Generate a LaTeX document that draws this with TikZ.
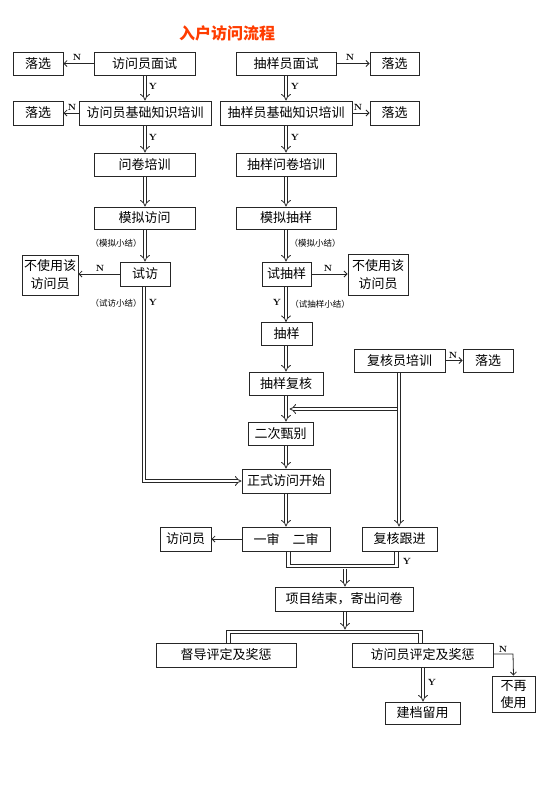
\documentclass[tikz,border=0pt]{standalone}
\usepackage{fontspec}
\newfontfamily\cjk{Noto Sans CJK SC}
\usetikzlibrary{arrows.meta}
\definecolor{titlered}{RGB}{255,60,0}
\begin{document}
\begin{tikzpicture}[x=1pt,y=-1pt,
 box/.style={draw=black!85, line width=1pt, inner sep=0pt, align=center, font=\cjk\fontsize{13}{17}\selectfont, fill=white},
 lbl/.style={font=\fontsize{9}{9}\selectfont\bfseries, inner sep=0pt},
 note/.style={font=\cjk\fontsize{8.5}{9}\selectfont, inner sep=0pt},
 dblline/.style={draw=black!85, line width=0.8pt, double=white, double distance=2.6pt},
 dbl/.style={dblline, -{Implies[length=6pt,width=13pt]}},
 sgl/.style={draw=black!85, line width=0.8pt, -{Straight Barb[length=3pt,width=6pt]}}
]
\useasboundingbox (0,0) rectangle (550,787);
\node[font=\cjk\bfseries\fontsize{16}{16}\selectfont, text=titlered, inner sep=0pt] (title) at (227,33) {入户访问流程};

% left column
\node[box, minimum width=50pt, minimum height=23pt] (lA1) at (38,63.5) {落选};
\node[box, minimum width=101pt, minimum height=23pt] (A1) at (144.5,63.5) {访问员面试};
\node[box, minimum width=50pt, minimum height=24pt] (lA2) at (38,113) {落选};
\node[box, minimum width=132pt, minimum height=24pt] (A2) at (145,113) {访问员基础知识培训};
\node[box, minimum width=101pt, minimum height=23pt] (A3) at (144.5,164.5) {问卷培训};
\node[box, minimum width=101pt, minimum height=22pt] (A4) at (144.5,218) {模拟访问};
\node[box, minimum width=50pt, minimum height=24pt] (A5) at (145,274) {试访};
\node[box, minimum width=56pt, minimum height=40pt, font=\cjk\fontsize{13}{18}\selectfont] (nA5) at (50,275) {不使用该\\访问员};

% right column
\node[box, minimum width=100pt, minimum height=23pt] (B1) at (286,63.5) {抽样员面试};
\node[box, minimum width=49pt, minimum height=23pt] (rB1) at (394.5,63.5) {落选};
\node[box, minimum width=132pt, minimum height=24pt] (B2) at (286,113) {抽样员基础知识培训};
\node[box, minimum width=49pt, minimum height=24pt] (rB2) at (394.5,113) {落选};
\node[box, minimum width=100pt, minimum height=23pt] (B3) at (286,164.5) {抽样问卷培训};
\node[box, minimum width=100pt, minimum height=22pt] (B4) at (286,218) {模拟抽样};
\node[box, minimum width=49pt, minimum height=24pt] (B5) at (286.5,274) {试抽样};
\node[box, minimum width=60pt, minimum height=41pt, font=\cjk\fontsize{13}{18}\selectfont] (nB5) at (378,274.5) {不使用该\\访问员};
\node[box, minimum width=51pt, minimum height=23pt] (B6) at (286.5,334) {抽样};
\node[box, minimum width=74pt, minimum height=23pt] (B7) at (286,383.5) {抽样复核};
\node[box, minimum width=91pt, minimum height=23pt] (C1) at (399.5,360.5) {复核员培训};
\node[box, minimum width=50pt, minimum height=23pt] (rC1) at (488,360.5) {落选};
\node[box, minimum width=65pt, minimum height=23pt] (B8) at (280.5,433.5) {二次甄别};
\node[box, minimum width=88pt, minimum height=24pt] (B9) at (286,481) {正式访问开始};
\node[box, minimum width=88pt, minimum height=24pt] (B10) at (286,539) {一审　二审};
\node[box, minimum width=51pt, minimum height=24pt] (lB10) at (185.5,539) {访问员};
\node[box, minimum width=75pt, minimum height=24pt] (C2) at (399.5,539) {复核跟进};
\node[box, minimum width=138pt, minimum height=24pt] (D1) at (344,599) {项目结束，寄出问卷};
\node[box, minimum width=140pt, minimum height=24pt] (E1) at (226,655) {督导评定及奖惩};
\node[box, minimum width=141pt, minimum height=24pt] (E2) at (422.5,655) {访问员评定及奖惩};
\node[box, minimum width=43pt, minimum height=36pt, font=\cjk\fontsize{13}{17}\selectfont] (nE2) at (513.5,694) {不再\\使用};
\node[box, minimum width=75pt, minimum height=22pt] (F1) at (422.5,713) {建档留用};

% column coordinates
\coordinate (cL) at (145,0);
\coordinate (cR) at (286,0);

% N arrows
\draw[sgl] (A1.west) -- (lA1.east);
\draw[sgl] (A2.west) -- (lA2.east);
\draw[sgl] (B1.east) -- (rB1.west);
\draw[sgl] (B2.east) -- (rB2.west);
\draw[sgl] (A5.west) -- (nA5.east |- A5.west);
\draw[sgl] (B5.east) -- (nB5.west |- B5.east);
\draw[sgl] (C1.east) -- (rC1.west);
\draw[sgl] (B10.west) -- (lB10.east);
\coordinate (ne) at (513,654);
\draw[sgl] (E2.east |- ne) -- (ne) -- (nE2.north);

% double arrows, left
\draw[dbl] (A1.south -| cL) -- (A2.north -| cL);
\draw[dbl] (A2.south -| cL) -- (A3.north -| cL);
\draw[dbl] (A3.south -| cL) -- (A4.north -| cL);
\draw[dbl] (A4.south -| cL) -- (A5.north -| cL);
\coordinate (cL2) at (144,0);
\draw[dblline, -{Implies[length=4pt,width=9pt]}] (A5.south -| cL2) |- (B9.west);

% double arrows, right
\draw[dbl] (B1.south -| cR) -- (B2.north -| cR);
\draw[dbl] (B2.south -| cR) -- (B3.north -| cR);
\draw[dbl] (B3.south -| cR) -- (B4.north -| cR);
\draw[dbl] (B4.south -| cR) -- (B5.north -| cR);
\draw[dbl] (B5.south -| cR) -- (B6.north -| cR);
\draw[dbl] (B6.south -| cR) -- (B7.north -| cR);
\draw[dbl] (B7.south -| cR) -- (B8.north -| cR);
\draw[dbl] (B8.south -| cR) -- (B9.north -| cR);
\draw[dbl] (B9.south -| cR) -- (B10.north -| cR);

% check trainer column
\coordinate (cC) at (399,0);
\draw[dblline, -{Implies[length=4pt,width=9pt]}] (C1.south -| cC) -- (C2.north -| cC);
\coordinate (brs) at (397.2,409);
\coordinate (bre) at (289.5,409);
\draw[dblline, -{Implies[length=4pt,width=9pt]}] (brs) -- (bre);

% merge bracket 1
\coordinate (k1) at (288.5,566);
\coordinate (k2) at (396.5,566);
\coordinate (k3) at (345,568.5);
\draw[dblline] (B10.south -| k1) |- (k2) -- (C2.south -| k2);
\draw[dbl] (k3) -- (D1.north -| k3);

% split bracket 2
\coordinate (m1) at (228.5,632);
\coordinate (m2) at (420.5,632);
\coordinate (m3) at (345,629.5);
\draw[dblline] (E1.north -| m1) |- (m2) -- (E2.north -| m2);
\draw[dbl] (D1.south -| m3) -- (m3);

% bottom
\coordinate (cF) at (423,0);
\draw[dbl] (E2.south -| cF) -- (F1.north -| cF);

% labels
\node[lbl] (y1) at (153,86) {Y};
\node[lbl] (y2) at (153,137) {Y};
\node[lbl] (y3) at (295,86) {Y};
\node[lbl] (y4) at (295,137) {Y};
\node[lbl] (n1) at (77,57) {N};
\node[lbl] (n2) at (72,107) {N};
\node[lbl] (n3) at (350,57) {N};
\node[lbl] (n4) at (358,107) {N};
\node[lbl] (n5) at (100,268) {N};
\node[lbl] (n6) at (328,268) {N};
\node[lbl] (y5) at (153,302) {Y};
\node[lbl] (y6) at (277,302) {Y};
\node[lbl] (n7) at (453,355) {N};
\node[lbl] (y7) at (407,561) {Y};
\node[lbl] (n8) at (503,649) {N};
\node[lbl] (y8) at (432,682) {Y};

\node[note] (s1) at (116,243) {（模拟小结）};
\node[note] (s2) at (116,303) {（试访小结）};
\node[note] (s3) at (315,243) {（模拟小结）};
\node[note] (s4) at (320,304) {（试抽样小结）};
\end{tikzpicture}
\end{document}
